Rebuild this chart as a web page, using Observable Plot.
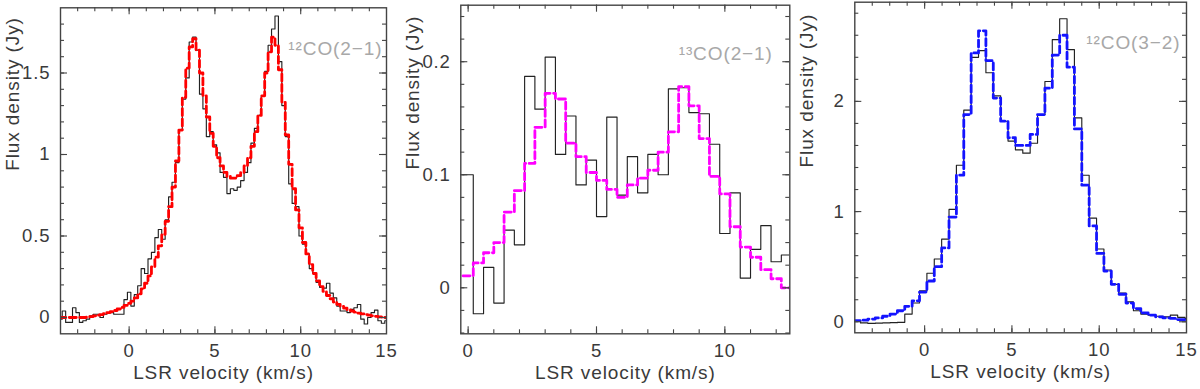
<!DOCTYPE html>
<html>
<head>
<meta charset="utf-8">
<script src="https://cdn.jsdelivr.net/npm/d3@7"></script>
<script src="https://cdn.jsdelivr.net/npm/@observablehq/plot@0.6"></script>
<style>
  html, body { margin: 0; padding: 0; background: #fff; }
  #wrap { position: relative; width: 1200px; height: 389px; overflow: hidden; }
  .panel { position: absolute; top: 0; }
</style>
</head>
<body>
<div id="wrap">
  <div class="panel" id="p1" style="left:0px"></div>
  <div class="panel" id="p2" style="left:400px"></div>
  <div class="panel" id="p3" style="left:790px"></div>
</div>
<script>
// ---------- DATA ----------
// 12CO(2-1): channel centres from -4.0 km/s, width 0.2 km/s
const co21Start = -4.0, co21Width = 0.2;
const co21Obs = [
  -0.01, 0.04, -0.03, -0.03, 0.06, 0.03, -0.03, -0.02, -0.01, 0.01,
  0.02, 0.02, 0.0, 0.02, 0.03, 0.03, 0.02, 0.02, 0.02, 0.11,
  0.155, 0.07, 0.14, 0.195, 0.30, 0.27, 0.36, 0.40, 0.49, 0.54,
  0.48, 0.60, 0.74, 0.83, 0.95, 1.15, 1.34, 1.47, 1.69, 1.72,
  1.64, 1.37, 1.28, 1.11, 1.14, 1.06, 1.01, 0.89, 0.86, 0.76,
  0.79, 0.78, 0.80, 0.84, 0.89, 0.95, 1.07, 1.16, 1.24, 1.36,
  1.51, 1.67, 1.77, 1.85, 1.57, 1.30, 1.11, 0.82, 0.70, 0.68,
  0.50, 0.45, 0.39, 0.30, 0.27, 0.215, 0.185, 0.18, 0.21, 0.15,
  0.12, 0.07, 0.04, 0.04, 0.03, 0.05, 0.06, 0.08, -0.01, -0.04,
  0.0, 0.03, 0.045, -0.02, -0.035, -0.02
];
const co21Model = [
  0.0, 0.0, 0.0, 0.0, 0.0, 0.0, 0.0, 0.0, 0.002, 0.005,
  0.01, 0.014, 0.018, 0.023, 0.03, 0.036, 0.043, 0.052, 0.062, 0.074,
  0.087, 0.10, 0.12, 0.145, 0.175, 0.21, 0.255, 0.31, 0.37, 0.44,
  0.51, 0.59, 0.68, 0.80, 0.96, 1.15, 1.35, 1.53, 1.66, 1.71,
  1.64, 1.50, 1.36, 1.23, 1.13, 1.05, 0.98, 0.93, 0.89, 0.865,
  0.855, 0.855, 0.87, 0.89, 0.93, 0.98, 1.05, 1.14, 1.24, 1.36,
  1.50, 1.63, 1.72, 1.67, 1.52, 1.32, 1.12, 0.94, 0.79, 0.66,
  0.55, 0.46, 0.39, 0.325, 0.27, 0.225, 0.19, 0.16, 0.135, 0.115,
  0.095, 0.08, 0.068, 0.057, 0.048, 0.04, 0.033, 0.027, 0.022, 0.018,
  0.014, 0.01, 0.007, 0.004, 0.002, 0.0
];

// 13CO(2-1): channel centres from 0.0 km/s, width 0.4 km/s
const c13Start = 0.0, c13Width = 0.4;
const c13Obs = [
  0.10, -0.023, 0.018, -0.0135, 0.051, 0.038, 0.187, 0.158, 0.204, 0.118,
  0.152, 0.091, 0.113, 0.063, 0.151, 0.082, 0.116, 0.084, 0.118, 0.100,
  0.176, 0.177, 0.155, 0.154, 0.127, 0.048, 0.084, 0.0086, 0.034, 0.055,
  0.023, 0.029
];
const c13Model = [
  0.0106, 0.022, 0.031, 0.040, 0.067, 0.086, 0.110, 0.142, 0.172, 0.167,
  0.128, 0.116, 0.102, 0.095, 0.087, 0.080, 0.091, 0.097, 0.104, 0.120,
  0.138, 0.178, 0.161, 0.132, 0.0985, 0.083, 0.054, 0.036, 0.027, 0.016,
  0.008, 0.0
];

// 12CO(3-2): channel centres from -3.884 km/s, width 0.4225 km/s
const co32Start = -3.884, co32Width = 0.4225;
const co32Obs = [
  0.005, -0.01, -0.015, -0.012, -0.01, -0.008, -0.005, 0.07, 0.17, 0.28,
  0.44, 0.57, 0.75, 1.02, 1.42, 1.92, 2.40, 2.46, 2.26, 2.05,
  1.82, 1.64, 1.56, 1.53, 1.62, 1.88, 2.18, 2.56, 2.75, 2.47,
  1.85, 1.33, 0.94, 0.66, 0.47, 0.34, 0.26, 0.18, 0.10, 0.07,
  0.06, 0.05, 0.045, 0.06, 0.04, 0.03
];
const co32Model = [
  0.01, 0.015, 0.025, 0.035, 0.05, 0.07, 0.10, 0.14, 0.19, 0.27,
  0.37, 0.50, 0.67, 0.95, 1.33, 1.88, 2.44, 2.64, 2.37, 2.03,
  1.82, 1.67, 1.60, 1.60, 1.70, 1.88, 2.12, 2.42, 2.60, 2.31,
  1.75, 1.24, 0.87, 0.62, 0.46, 0.34, 0.25, 0.17, 0.12, 0.08,
  0.06, 0.045, 0.035, 0.03, 0.02, 0.01
];

// tick values
const xMajorWide = [0, 5, 10, 15];
const xMinorWide = d3.range(-4, 16, 1);
const xMajor13 = [0, 5, 10];
const xMinor13 = d3.range(0, 13, 1);
const yMajor1 = [0, 0.5, 1, 1.5];
const yMinor1 = d3.range(-1, 20).map(d => d / 10);
const yMajor2 = [0, 0.1, 0.2];
const yMinor2 = d3.range(-2, 13).map(d => d / 50);
const yMajor3 = [0, 1, 2];
const yMinor3 = d3.range(0, 15).map(d => d / 5);

const xLabel = "LSR velocity (km/s)";
const yLabel = "Flux density (Jy)";

// ---------- HELPERS ----------
// histogram outline: left edge of every channel plus the right edge of the last
function stepRows(start, width, values) {
  const rows = values.map((f, i) => ({v: start + i * width - width / 2, f}));
  rows.push({v: start + (values.length - 1) * width + width / 2, f: values[values.length - 1]});
  return rows;
}

const H = 389;
const FONT = "'Liberation Sans', Arial, Helvetica, sans-serif";

function panel(cfg) {
  const {width, ml, mr, mt, mb, xDomain, yDomain, xMajor, xMinor, yMajor, yMinor,
         obs, model, color, tag, tagDx, tagDy} = cfg;
  const innerW = width - ml - mr, innerH = H - mt - mb;
  const inX = d => d > xDomain[0] && d < xDomain[1];
  const inY = d => d > yDomain[0] && d < yDomain[1];
  const tickStroke = "#444";
  const majL = 7, minL = 4;
  return Plot.plot({
    width, height: H,
    marginLeft: ml, marginRight: mr, marginTop: mt, marginBottom: mb,
    x: {domain: xDomain},
    y: {domain: yDomain},
    style: {fontFamily: FONT, fontSize: "18.5px", color: "#3a3a3a", background: "transparent",
            overflow: "visible", letterSpacing: "0.9px"},
    marks: [
      Plot.line(obs, {x: "v", y: "f", curve: "step-after", stroke: "#222", strokeWidth: 1.15, clip: true}),
      Plot.line(model, {x: "v", y: "f", curve: "step-after", stroke: color, strokeWidth: 2.8,
                        strokeDasharray: "7,3.5", clip: true}),
      // inward ticks, bottom & top
      Plot.tickX(xMajor.filter(inX), {x: d => d, insetTop: innerH - majL, stroke: tickStroke, strokeWidth: 1.1}),
      Plot.tickX(xMajor.filter(inX), {x: d => d, insetBottom: innerH - majL, stroke: tickStroke, strokeWidth: 1.1}),
      Plot.tickX(xMinor.filter(inX), {x: d => d, insetTop: innerH - minL, stroke: tickStroke, strokeWidth: 1.1}),
      Plot.tickX(xMinor.filter(inX), {x: d => d, insetBottom: innerH - minL, stroke: tickStroke, strokeWidth: 1.1}),
      // inward ticks, left & right
      Plot.tickY(yMajor.filter(inY), {y: d => d, insetRight: innerW - majL, stroke: tickStroke, strokeWidth: 1.1}),
      Plot.tickY(yMajor.filter(inY), {y: d => d, insetLeft: innerW - majL, stroke: tickStroke, strokeWidth: 1.1}),
      Plot.tickY(yMinor.filter(inY), {y: d => d, insetRight: innerW - minL, stroke: tickStroke, strokeWidth: 1.1}),
      Plot.tickY(yMinor.filter(inY), {y: d => d, insetLeft: innerW - minL, stroke: tickStroke, strokeWidth: 1.1}),
      Plot.frame({stroke: "#444", strokeWidth: 1.4}),
      Plot.axisX(xMajor, {anchor: "bottom", tickSize: 0, tickPadding: 10, tickFormat: d => String(d),
                          label: null, fontSize: 18.5}),
      Plot.axisY(yMajor, {anchor: "left", tickSize: 0, tickPadding: 10, tickFormat: d => String(d),
                          label: null, fontSize: 18.5}),
      Plot.text([xLabel], {text: d => d, frameAnchor: "bottom", dy: 45, fontSize: 19, fill: "#3a3a3a"}),
      Plot.text([yLabel], {text: d => d, frameAnchor: "left", dx: -48, rotate: -90, fontSize: 19, fill: "#3a3a3a"}),
      Plot.text([tag], {text: d => d, frameAnchor: "top-right", textAnchor: "end", dx: tagDx, dy: tagDy,
                        fontSize: 19, fill: "#a8a8a8"})
    ]
  });
}

document.getElementById("p1").append(panel({
  width: 400, ml: 60, mr: 14, mt: 7.3, mb: 55.7,
  xDomain: [-4, 15], yDomain: [-0.1, 1.9],
  xMajor: xMajorWide, xMinor: xMinorWide, yMajor: yMajor1, yMinor: yMinor1,
  obs: stepRows(co21Start, co21Width, co21Obs),
  model: stepRows(co21Start, co21Width, co21Model),
  color: "#ff0000", tag: "¹²CO(2−1)", tagDx: -4, tagDy: 34
}));

document.getElementById("p2").append(panel({
  width: 400, ml: 60.3, mr: 10.7, mt: 4.7, mb: 55.7,
  xDomain: [-0.286, 12.53], yDomain: [-0.0407, 0.25],
  xMajor: xMajor13, xMinor: xMinor13, yMajor: yMajor2, yMinor: yMinor2,
  obs: stepRows(c13Start, c13Width, c13Obs),
  model: stepRows(c13Start, c13Width, c13Model),
  color: "#ff00ff", tag: "¹³CO(2−1)", tagDx: -17, tagDy: 41
}));

document.getElementById("p3").append(panel({
  width: 410, ml: 64.3, mr: 14, mt: 1.7, mb: 56.7,
  xDomain: [-4, 15], yDomain: [-0.1, 2.9],
  xMajor: xMajorWide, xMinor: xMinorWide, yMajor: yMajor3, yMinor: yMinor3,
  obs: stepRows(co32Start, co32Width, co32Obs),
  model: stepRows(co32Start, co32Width, co32Model),
  color: "#1414ff", tag: "¹²CO(3−2)", tagDx: -6, tagDy: 33
}));
</script>
</body>
</html>
